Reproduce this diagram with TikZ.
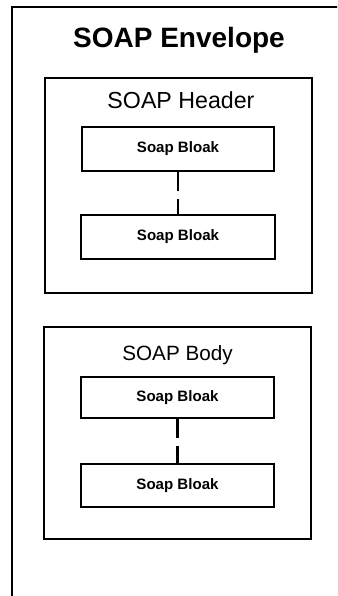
\documentclass[tikz,border=0pt]{standalone}
\usepackage{fontspec}
\setmainfont{Liberation Sans}
\begin{document}
\begin{tikzpicture}[x=0.75pt,y=-0.75pt,
  container/.style={draw=black,line width=1.9pt,inner sep=0pt},
  blockbox/.style={draw=black,line width=1.5pt,inner sep=0pt,
    font=\fontsize{11.3}{13}\selectfont\bfseries},
  link/.style={draw=black,line width=1.9pt,dash pattern=on 14pt off 6.5pt},
  title/.style={font=\fontsize{21}{24}\selectfont\bfseries,inner sep=0pt},
  caption/.style={inner sep=0pt}]
  \useasboundingbox (0,0) rectangle (337,596);
  \clip (0,0) rectangle (337,596);
  \fill[white] (0,0) rectangle (337,596);

  % envelope frame, running off the right and bottom edges
  \coordinate (envNW) at (12,7);
  \coordinate (envSE) at (350,610);
  \draw[line width=1.9pt] (envNW) rectangle (envSE);
  \node[title] (envtitle) at (179,40) {SOAP Envelope};

  % header part
  \node[container,minimum width=200.25pt,minimum height=161.25pt] (header) at (178.5,185.5) {};
  \node[caption,font=\fontsize{17.4}{20}\selectfont] (headertitle) at (181,100) {SOAP Header};
  \node[blockbox,minimum width=144pt,minimum height=33pt] (hb1) at (178,149) {Soap Bloak};
  \node[blockbox,minimum width=145.5pt,minimum height=33pt] (hb2) at (178,237) {Soap Bloak};
  \draw[link] (hb1.south) -- (hb2.north);

  % body part
  \node[container,minimum width=200.25pt,minimum height=159pt] (body) at (177.5,433) {};
  \node[caption,font=\fontsize{15.5}{18}\selectfont] (bodytitle) at (177.5,355) {SOAP Body};
  \node[blockbox,minimum width=144.75pt,minimum height=30.75pt] (bb1) at (177.5,397.5) {Soap Bloak};
  \node[blockbox,minimum width=144.75pt,minimum height=32.25pt] (bb2) at (177.5,485.5) {Soap Bloak};
  \draw[link] (bb1.south) -- (bb2.north);
\end{tikzpicture}
\end{document}
